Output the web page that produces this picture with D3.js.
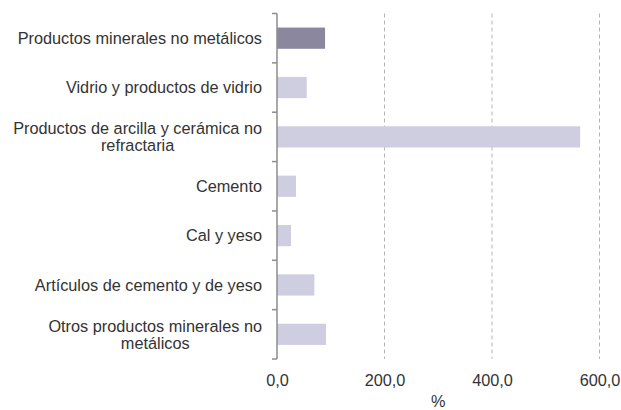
<!DOCTYPE html>
<html>
<head>
<meta charset="utf-8">
<script src="https://cdn.jsdelivr.net/npm/d3@7"></script>
<style>
  body { margin: 0; background: #fff; }
  text { font-family: "Liberation Sans", Arial, sans-serif; fill: #333; }
</style>
</head>
<body>
<svg id="chart" width="621" height="410"></svg>
<script>
// categories (each entry is the wrapped lines of the label)
const categories = [
  ["Productos minerales no metálicos"],
  ["Vidrio y productos de vidrio"],
  ["Productos de arcilla y cerámica no", "refractaria"],
  ["Cemento"],
  ["Cal y yeso"],
  ["Artículos de cemento y de yeso"],
  ["Otros productos minerales no", "metálicos"]
];
const values = [89.4, 55.3, 564, 35.4, 26, 69.5, 91.2];
const xTicks = [0, 200, 400, 600];
const xTickLabels = ["0,0", "200,0", "400,0", "600,0"];
const xTitle = "%";

const svg = d3.select("#chart");
const margin = { top: 13.5, right: 21, bottom: 51, left: 277 };
const width = 621, height = 410;
const h = height - margin.top - margin.bottom;
const fontSize = "16.3px";

const x = d3.scaleLinear().domain([0, 600]).range([0, 322.5]);
const y = d3.scaleBand()
  .domain(d3.range(categories.length))
  .range([0, h])
  .paddingInner(0.57)
  .paddingOuter(0.285);

const g = svg.append("g").attr("transform", `translate(${margin.left},${margin.top})`);

// dashed gridlines
g.selectAll("line.grid")
  .data(xTicks.filter(d => d > 0))
  .join("line")
  .attr("class", "grid")
  .attr("x1", d => x(d)).attr("x2", d => x(d))
  .attr("y1", 0).attr("y2", h)
  .attr("stroke", "#b5b5b5")
  .attr("stroke-width", 1)
  .attr("stroke-dasharray", "4,3");

// bars
g.selectAll("rect.bar")
  .data(values)
  .join("rect")
  .attr("class", "bar")
  .attr("x", x(0))
  .attr("y", (_, i) => y(i))
  .attr("width", d => x(d) - x(0))
  .attr("height", y.bandwidth())
  .attr("fill", (_, i) => i === 0 ? "#8a879f" : "#cfcde0");

// x axis (labels only)
const xAxis = g.append("g")
  .attr("transform", `translate(0,${h})`)
  .call(d3.axisBottom(x).tickValues(xTicks).tickFormat((d, i) => xTickLabels[i]).tickSize(0).tickPadding(15));
xAxis.select(".domain").remove();
xAxis.selectAll("text").style("font-size", fontSize).attr("fill", "#333");

svg.append("text")
  .attr("x", margin.left + x(300))
  .attr("y", 407)
  .attr("text-anchor", "middle")
  .style("font-size", fontSize)
  .text(xTitle);

// y axis: vertical line with ticks between categories
const yAxis = g.append("g");
yAxis.append("line")
  .attr("x1", 0).attr("x2", 0)
  .attr("y1", 0).attr("y2", h)
  .attr("stroke", "#8c8c8c").attr("stroke-width", 1.5);
yAxis.selectAll("line.tick")
  .data(d3.range(categories.length + 1))
  .join("line")
  .attr("class", "tick")
  .attr("x1", -5).attr("x2", 0)
  .attr("y1", i => i * y.step()).attr("y2", i => i * y.step())
  .attr("stroke", "#8c8c8c").attr("stroke-width", 1.5);

// category labels, wrapped lines centred on each other and right-aligned as a block
const lineH = 17;
const labels = g.selectAll("g.lbl")
  .data(categories)
  .join("g")
  .attr("class", "lbl")
  .attr("transform", (_, i) => `translate(0,${y(i) + y.bandwidth() / 2})`);

labels.each(function (lines) {
  const t = d3.select(this).append("text").style("font-size", fontSize).attr("text-anchor", "middle");
  lines.forEach((ln, j) => {
    t.append("tspan")
      .attr("x", 0)
      .attr("y", (j - (lines.length - 1) / 2) * lineH)
      .attr("dy", "0.35em")
      .text(ln);
  });
  const bw = t.node().getBBox().width;
  t.attr("transform", `translate(${-15 - bw / 2},0)`);
});
</script>
</body>
</html>
